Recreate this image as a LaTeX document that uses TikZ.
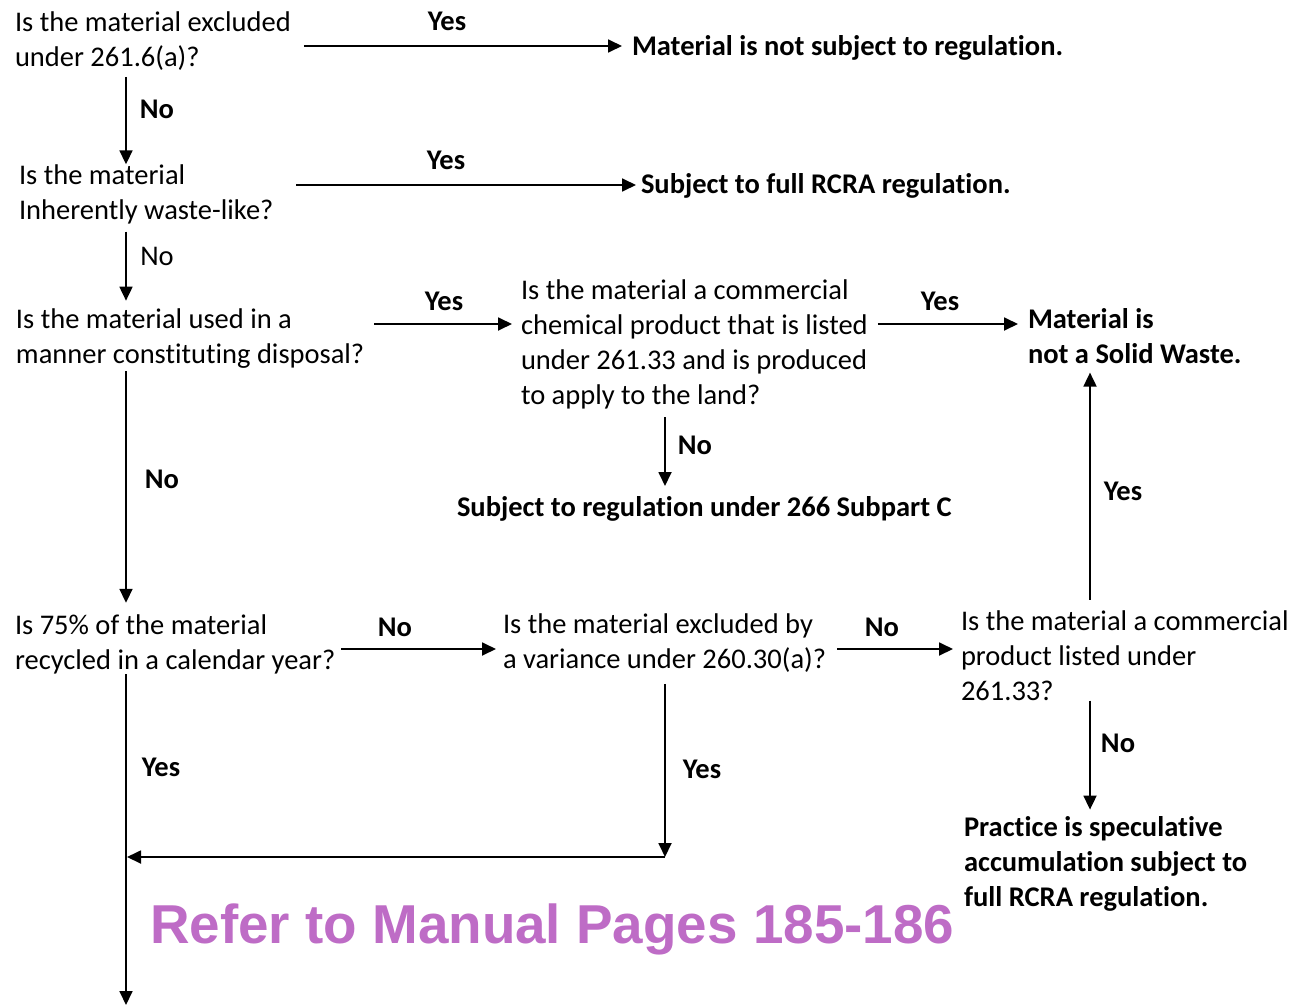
\documentclass[tikz,border=0pt]{standalone}
\usepackage{fontspec}
\usetikzlibrary{arrows.meta,calc}
\newfontfamily\calib{Carlito}[Ligatures=NoCommon]
\newfontfamily\arialfont{Liberation Sans}
\definecolor{refpurple}{HTML}{BE6CC6}
\newcommand\qfont{\calib\fontsize{28.5}{35}\selectfont}
\tikzset{
  q/.style={anchor=west, align=left, font=\qfont, inner sep=0pt, outer sep=0pt},
  rb/.style={q, font=\qfont\bfseries},
  lbl/.style={anchor=base, font=\qfont\bfseries, inner sep=0pt},
  lblr/.style={anchor=base, font=\qfont, inner sep=0pt},
  arr/.style={-{Triangle[length=14pt,width=13pt]}, line width=1.8pt},
  reftext/.style={anchor=base west, inner sep=0pt, text=refpurple,
    font=\arialfont\bfseries\fontsize{54.8}{60}\selectfont}
}
\begin{document}
\begin{tikzpicture}[x=1pt,y=-1pt]
\useasboundingbox[fill=white] (0,0) rectangle (1305,1006);
% helper coordinates
\coordinate (row1) at (0,46);
\coordinate (row2) at (0,185);
\coordinate (row3) at (0,324);
\coordinate (row5) at (0,649);
\coordinate (trunk) at (126,0);
\coordinate (colm) at (665,0);
\coordinate (colr) at (1090,0);
\coordinate (bend) at (665,857);
\coordinate (join) at (127,857);
\coordinate (out) at (126,1005);
% nodes
\node[q] (q1) at (15,41.5) {Is the material excluded\\under 261.6(a)?};
\node[rb, anchor=base west] (r1) at (632,56) {Material is not subject to regulation.};
\node[q] (q2) at (19,194) {Is the material\\Inherently waste-like?};
\node[rb, anchor=base west] (r2) at (641,193) {Subject to full RCRA regulation.};
\node[q] (q3) at (16,338.5) {Is the material used in a\\manner constituting disposal?};
\node[q] (q4) at (521,344.5) {Is the material a commercial\\chemical product that is listed\\under 261.33 and is produced\\to apply to the land?};
\node[rb] (r3) at (1028,336) {Material is\\not a Solid Waste.};
\node[rb, anchor=base west] (r4) at (457,516) {Subject to regulation under 266 Subpart C};
\node[q] (q5) at (15,644.5) {Is 75\% of the material\\recycled in a calendar year?};
\node[q] (q6) at (503,643.5) {Is the material excluded by\\a variance under 260.30(a)?};
\node[q] (q7) at (961,655.5) {Is the material a commercial\\product listed under\\261.33?};
\node[rb] (r5) at (964,864) {Practice is speculative\\accumulation subject to\\full RCRA regulation.};
\node[reftext] (ref) at (150,943) {Refer to Manual Pages 185-186};
% labels
\node[lbl] (l1) at (447,31) {Yes};
\node[lbl] (l2) at (157,119) {No};
\node[lbl] (l3) at (446,169) {Yes};
\node[lblr] (l4) at (157,265) {No};
\node[lbl] (l5) at (444,310) {Yes};
\node[lbl] (l6) at (940,310) {Yes};
\node[lbl] (l7) at (695,454) {No};
\node[lbl] (l8) at (162,488) {No};
\node[lbl] (l9) at (1123,500) {Yes};
\node[lbl] (l10) at (395,636) {No};
\node[lbl] (l11) at (882,636) {No};
\node[lbl] (l12) at (1118,752) {No};
\node[lbl] (l13) at (161,776) {Yes};
\node[lbl] (l14) at (702,778) {Yes};
% connectors
\draw[arr, shorten <=13pt, shorten >=10pt] (q1.east |- row1) -- (r1.west |- row1);
\draw[arr, shorten <=6pt] (q1.south -| trunk) -- (q2.north -| trunk);
\draw[arr, shorten <=23pt, shorten >=5pt] (q2.east |- row2) -- (r2.west |- row2);
\draw[arr, shorten <=8pt, shorten >=8pt] (q2.south -| trunk) -- (q3.north -| trunk);
\draw[arr, shorten <=10pt, shorten >=9pt] (q3.east |- row3) -- (q4.west |- row3);
\draw[arr, shorten <=10pt, shorten >=10pt] (q4.east |- row3) -- (r3.west |- row3);
\draw[arr, shorten <=8pt, shorten >=10pt] (q4.south -| colm) -- (r4.north -| colm);
\draw[arr, shorten <=3pt, shorten >=12pt] (q3.south -| trunk) -- (q5.north -| trunk);
\draw[arr, shorten <=6pt, shorten >=7pt] (q5.east |- row5) -- (q6.west |- row5);
\draw[arr, shorten <=11pt, shorten >=8pt] (q6.east |- row5) -- (q7.west |- row5);
\draw[arr, shorten <=11pt, shorten >=9pt] (q7.north -| colr) -- (r3.south -| colr);
\draw[arr, shorten >=7pt] (q7.south -| colr) -- (r5.north -| colr);
\draw[arr, shorten <=11pt] (q6.south -| colm) -- (bend);
\draw[arr] (bend) -- (join);
\draw[arr] (q5.south -| trunk) -- (out);
\end{tikzpicture}
\end{document}
